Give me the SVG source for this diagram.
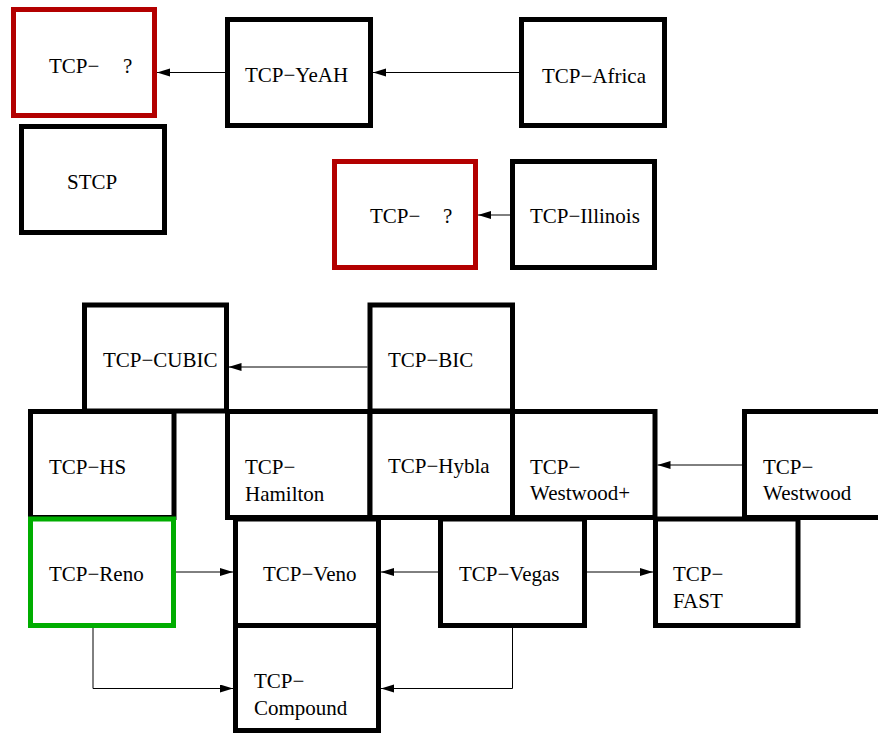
<svg xmlns="http://www.w3.org/2000/svg" width="878" height="733" viewBox="0 0 878 733">
<style>
.box{fill:#fff;stroke:#000;stroke-width:5}
.red{stroke:#b30000}
.green{stroke:#00ad00}
.t{font-family:'Liberation Serif','Times New Roman',Times,'DejaVu Serif',serif;font-size:21px;fill:#000}
.c{fill:none;stroke:#000;stroke-width:1}
</style>
<defs>
<marker id="ah" markerUnits="userSpaceOnUse" markerWidth="14" markerHeight="10" refX="13" refY="4" orient="auto">
<path d="M0,0 L13,4 L0,8 z" fill="#000"/>
</marker>
</defs>
<g class="t" font-family="Liberation Serif, serif">
<g id="stcp"><rect class="box" x="21.5" y="126.5" width="143" height="106"/><text x="67" y="189">STCP</text></g>
<g id="tcp-q1"><rect class="box red" x="13.5" y="9.5" width="141" height="106"/><text x="49" y="73">TCP−<tspan x="123">?</tspan></text></g>
<g id="tcp-yeah"><rect class="box" x="227.5" y="19.5" width="143" height="106"/><text x="245" y="82">TCP−YeAH</text></g>
<g id="tcp-africa"><rect class="box" x="521.5" y="19.5" width="143" height="106"/><text x="542" y="83">TCP−Africa</text></g>
<g id="tcp-q2"><rect class="box red" x="334.5" y="161.5" width="141" height="106"/><text x="370" y="223">TCP−<tspan x="443">?</tspan></text></g>
<g id="tcp-illinois"><rect class="box" x="512.5" y="161.5" width="142" height="106"/><text x="530" y="223">TCP−Illinois</text></g>
<g id="tcp-cubic"><rect class="box" x="84.5" y="305" width="142" height="106"/><text x="103" y="367">TCP−CUBIC</text></g>
<g id="tcp-bic"><rect class="box" x="370" y="305" width="142.5" height="106"/><text x="388" y="367">TCP−BIC</text></g>
<g id="tcp-hs"><rect class="box" x="30.5" y="411.5" width="143.5" height="106"/><text x="49" y="474">TCP−HS</text></g>
<g id="tcp-hamilton"><rect class="box" x="227.5" y="411.5" width="142.5" height="106"/><text x="245" y="474">TCP−</text><text x="245" y="501">Hamilton</text></g>
<g id="tcp-hybla"><rect class="box" x="370" y="411.5" width="142.5" height="106"/><text x="388" y="473">TCP−Hybla</text></g>
<g id="tcp-westwoodplus"><rect class="box" x="512.5" y="411.5" width="142.5" height="106"/><text x="530" y="474">TCP−</text><text x="530" y="500">Westwood+</text></g>
<g id="tcp-westwood"><rect class="box" x="744.5" y="411.5" width="142.5" height="106"/><text x="763" y="474">TCP−</text><text x="763" y="500">Westwood</text></g>
<g id="tcp-veno"><rect class="box" x="235.5" y="519" width="143" height="106.5"/><text x="263" y="581">TCP−Veno</text></g>
<g id="tcp-vegas"><rect class="box" x="440.5" y="519" width="144" height="106.5"/><text x="459" y="581">TCP−Vegas</text></g>
<g id="tcp-fast"><rect class="box" x="655.5" y="519" width="142.5" height="106.5"/><text x="673" y="581">TCP−</text><text x="673" y="608">FAST</text></g>
<g id="tcp-reno"><rect class="box green" x="30.5" y="519" width="143" height="106.5"/><text x="49" y="581">TCP−Reno</text></g>
<g id="tcp-compound"><rect class="box" x="235.5" y="625.5" width="143" height="105"/><text x="254" y="688">TCP−</text><text x="254" y="715">Compound</text></g>
</g>
<g id="connectors">
<path class="c" d="M519,72.5 H373" marker-end="url(#ah)"/>
<path class="c" d="M225,72.5 H157" marker-end="url(#ah)"/>
<path class="c" d="M510,215 H478" marker-end="url(#ah)"/>
<path class="c" d="M367.5,367 H228.5" marker-end="url(#ah)"/>
<path class="c" d="M742,465 H657.5" marker-end="url(#ah)"/>
<path class="c" d="M176,572 H233" marker-end="url(#ah)"/>
<path class="c" d="M438,572 H381" marker-end="url(#ah)"/>
<path class="c" d="M587,572 H653" marker-end="url(#ah)"/>
<path class="c" d="M93,628 V688.5 H233" marker-end="url(#ah)"/>
<path class="c" d="M512.5,628 V688.5 H381" marker-end="url(#ah)"/>
</g>
</svg>
